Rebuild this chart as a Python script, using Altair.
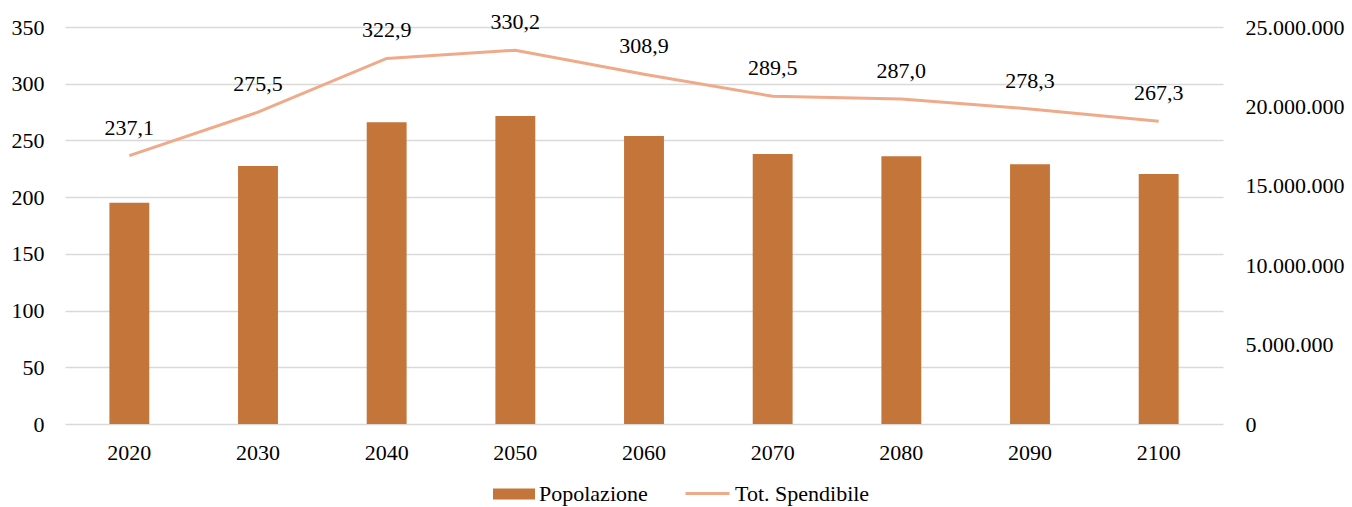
import altair as alt
import pandas as pd

years = ["2020", "2030", "2040", "2050", "2060", "2070", "2080", "2090", "2100"]
popolazione = [195, 227.5, 266, 271.6, 254, 238, 236, 229, 220.5]
spendibile = [16900000, 19640000, 23020000, 23540000, 22020000, 20640000, 20460000, 19840000, 19060000]
etichette = ["237,1", "275,5", "322,9", "330,2", "308,9", "289,5", "287,0", "278,3", "267,3"]

df = pd.DataFrame({
    "anno": years,
    "pop": popolazione,
    "spend": spendibile,
    "lab": etichette,
    "s1": ["Popolazione"] * len(years),
    "s2": ["Tot. Spendibile"] * len(years),
})

FONT = "Liberation Serif"
BAR = "#C4753A"
LINE = "#EFAA8A"

xenc = alt.X(
    "anno:N",
    sort=years,
    scale=alt.Scale(paddingInner=0.69, paddingOuter=0.345),
    axis=alt.Axis(title=None, labelAngle=0, domain=False, ticks=False, grid=False,
                  labelPadding=18, labelFont=FONT, labelFontSize=22, labelColor="#000000"),
)

bars = alt.Chart(df).mark_bar().encode(
    x=xenc,
    y=alt.Y("pop:Q", scale=alt.Scale(domain=[0, 350], nice=False),
            axis=alt.Axis(title=None, values=[0, 50, 100, 150, 200, 250, 300, 350],
                          domain=False, ticks=False, grid=True, gridColor="#D9D9D9",
                          gridWidth=1.5, labelPadding=21, labelFont=FONT,
                          labelFontSize=22, labelColor="#000000")),
    fill=alt.Fill("s1:N", scale=alt.Scale(range=[BAR]),
                  legend=alt.Legend(title=None, orient="none", legendX=428, legendY=446,
                                    symbolType="M-1,-0.26H1V0.26H-1Z", symbolSize=1764,
                                    symbolStrokeWidth=0, labelOffset=4, labelFont=FONT,
                                    labelFontSize=22, labelColor="#000000")),
)

right_axis = alt.Axis(title=None, orient="right", values=[0, 5000000, 10000000, 15000000, 20000000, 25000000],
                      domain=False, ticks=False, grid=False, labelPadding=22, labelAlign="left",
                      labelFont=FONT, labelFontSize=22, labelColor="#000000",
                      labelExpr="replace(replace(format(datum.value, ','), ',', '.'), ',', '.')")

base2 = alt.Chart(df).encode(
    x=xenc,
    y=alt.Y("spend:Q", scale=alt.Scale(domain=[0, 25000000], nice=False), axis=right_axis),
)

line = base2.mark_line(strokeWidth=3).encode(
    stroke=alt.Stroke("s2:N", scale=alt.Scale(range=[LINE]),
                      legend=alt.Legend(title=None, orient="none", legendX=619, legendY=443,
                                        symbolType="stroke", symbolSize=1936,
                                        symbolStrokeWidth=3, labelOffset=4, labelFont=FONT,
                                        labelFontSize=22, labelColor="#000000")),
)

text = base2.mark_text(dy=-28, font=FONT, fontSize=22, color="#000000", baseline="middle").encode(
    text="lab:N"
)

chart = alt.layer(bars, alt.layer(line, text)).resolve_scale(
    y="independent", fill="independent", stroke="independent"
).properties(
    width=1158, height=397,
    padding={"left": 65, "top": 27, "right": 129, "bottom": 83},
    autosize=alt.AutoSizeParams(type="none"),
    background="#FFFFFF",
).configure_view(stroke=None)

chart.save("out.html", embed_options={"renderer": "svg", "actions": False})
